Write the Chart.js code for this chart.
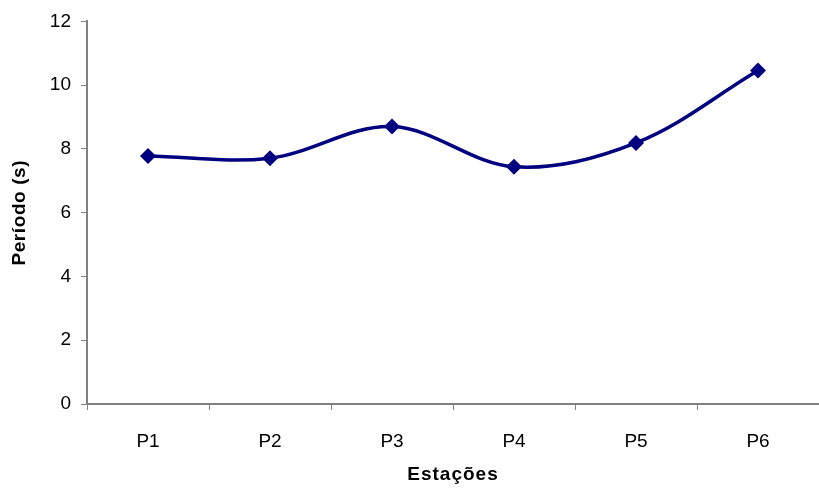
<!DOCTYPE html>
<html>
<head>
<meta charset="utf-8">
<script src="https://cdn.jsdelivr.net/npm/chart.js@4/dist/chart.umd.min.js"></script>
<style>
  html, body { margin: 0; padding: 0; background: #fff; overflow: hidden; }
  #wrap { width: 827px; height: 491px; }
</style>
</head>
<body>
<div id="wrap"><canvas id="c" width="827" height="491"></canvas></div>
<script>
// Stations and measured period per station
const stations = ['P1', 'P2', 'P3', 'P4', 'P5', 'P6'];
const periodo = [7.78, 7.71, 8.70, 7.44, 8.19, 10.46];
const yTicks = [0, 2, 4, 6, 8, 10, 12];

const axisGrey = '#808080';
const navy = '#000080';
const font = 'Liberation Sans, Arial, sans-serif';

// Draw an axis title with a little extra spacing between letters
function spacedTitle(scale, spacing) {
  if (scale._spacedTitle) return;
  scale._spacedTitle = true;
  const orig = scale.drawTitle;
  scale.drawTitle = function () {
    const ctx = this.ctx;
    ctx.save();
    ctx.letterSpacing = spacing;
    orig.apply(this, arguments);
    ctx.restore();
  };
}

new Chart(document.getElementById('c'), {
  type: 'line',
  data: {
    labels: stations,
    datasets: [{
      data: periodo,
      borderColor: navy,
      backgroundColor: navy,
      borderWidth: 3.5,
      tension: 0.35,
      pointStyle: 'rectRot',
      pointRadius: 8,
      pointHoverRadius: 8,
      pointBackgroundColor: navy,
      pointBorderColor: navy,
      pointBorderWidth: 0,
      fill: false
    }]
  },
  options: {
    responsive: false,
    animation: false,
    events: [],
    layout: { padding: { top: 19, right: 0, bottom: 0, left: 0 } },
    plugins: { legend: { display: false }, tooltip: { enabled: false } },
    scales: {
      x: {
        type: 'category',
        offset: true,
        afterFit: s => { s.height = 87; spacedTitle(s, '1px'); },
        grid: { display: true, drawOnChartArea: false, drawTicks: true, tickLength: 6, offset: true, color: axisGrey, lineWidth: 1 },
        border: { display: true, color: axisGrey, width: 2 },
        ticks: { color: '#000', font: { family: font, size: 19 }, padding: 20 },
        title: { display: true, text: 'Estações', color: '#000', font: { family: font, size: 19, weight: 'bold' }, padding: 5 }
      },
      y: {
        min: 0, max: 12,
        afterFit: s => { s.width = 87; spacedTitle(s, '0.6px'); },
        afterBuildTicks: s => { s.ticks = yTicks.map(v => ({ value: v })); },
        grid: { display: true, drawOnChartArea: false, drawTicks: true, tickLength: 6, color: axisGrey, lineWidth: 1 },
        border: { display: true, color: axisGrey, width: 2 },
        ticks: { color: '#000', font: { family: font, size: 19 }, padding: 10 },
        title: { display: true, text: 'Período (s)', color: '#000', font: { family: font, size: 19, weight: 'bold' }, padding: 8 }
      }
    }
  }
});
</script>
</body>
</html>
